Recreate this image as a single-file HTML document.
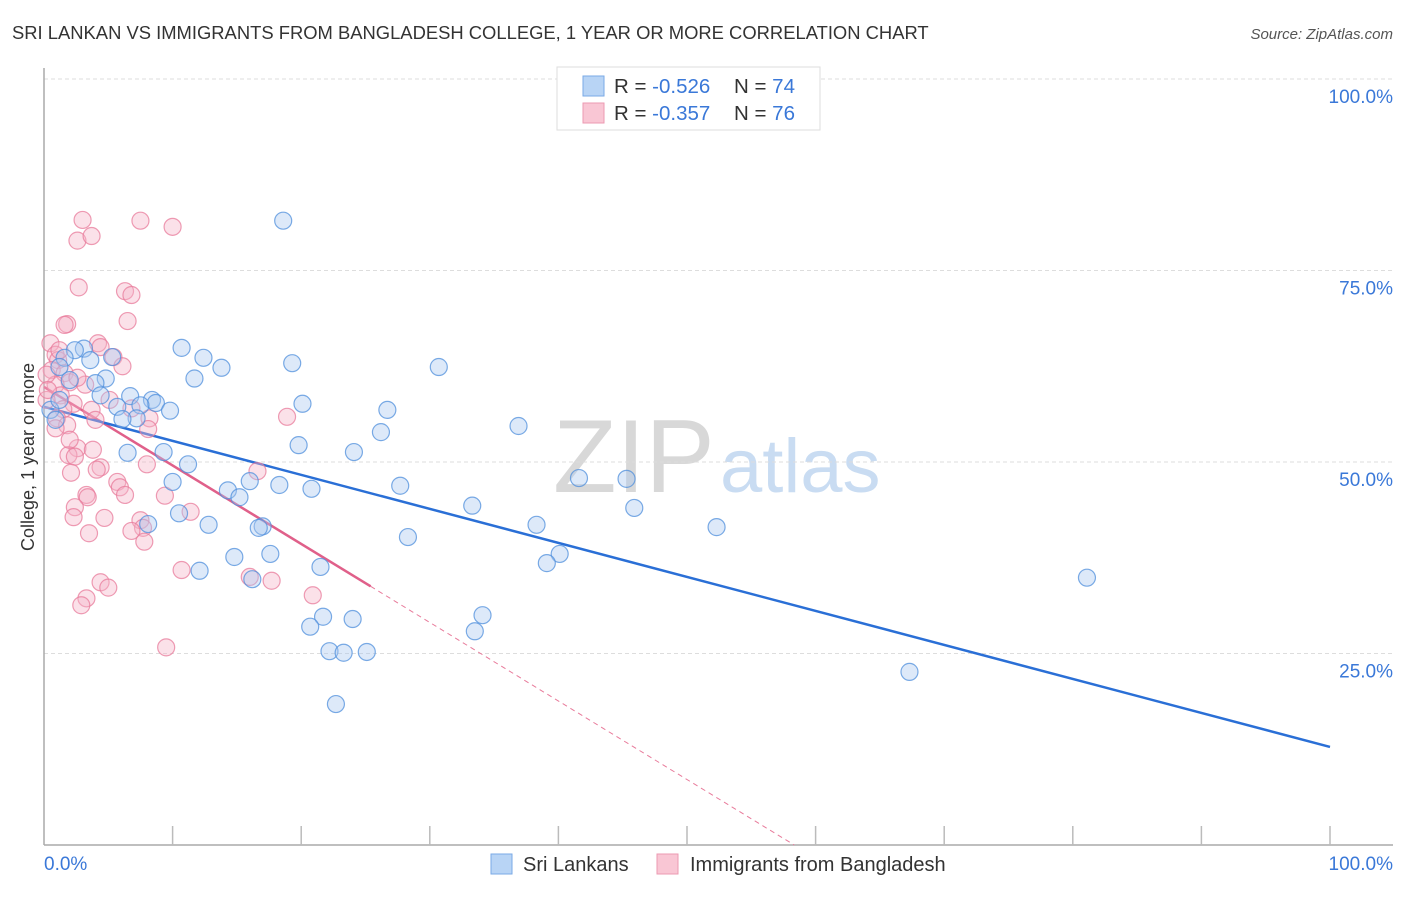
<!DOCTYPE html>
<html><head><meta charset="utf-8"><style>
body{margin:0;background:#fff;font-family:"Liberation Sans",sans-serif;}
svg text{font-family:"Liberation Sans",sans-serif;}
</style></head><body>
<svg id="chart" width="1406" height="892" viewBox="0 0 1406 892" xmlns="http://www.w3.org/2000/svg">
<text x="12" y="39" font-size="18.4" fill="#333">SRI LANKAN VS IMMIGRANTS FROM BANGLADESH COLLEGE, 1 YEAR OR MORE CORRELATION CHART</text>
<text x="1393" y="39" font-size="15" fill="#555" font-style="italic" text-anchor="end">Source: ZipAtlas.com</text>
<g><text x="553" y="492" font-size="104" fill="#d8d8d8" font-family="Liberation Serif,serif">ZIP</text><text x="720" y="492" font-size="76" fill="#c9dcf2">atlas</text></g>
<g id="grid"></g>
<g id="axes"></g>
<text transform="translate(34,457) rotate(-90)" font-size="18" fill="#333" text-anchor="middle">College, 1 year or more</text>
<g id="lines"></g>
<g id="pts"></g>
<g>
<rect x="557" y="67" width="263" height="63" fill="#fff" stroke="#ddd"/>
<rect x="583" y="76" width="21" height="20" fill="#b8d4f5" stroke="#7aaae6"/>
<rect x="583" y="103" width="21" height="20" fill="#f9c6d4" stroke="#ec9ab2"/>
<text x="614" y="93" font-size="20.5" fill="#333">R = <tspan fill="#3a78d8">-0.526</tspan></text>
<text x="734" y="93" font-size="20.5" fill="#333">N = <tspan fill="#3a78d8">74</tspan></text>
<text x="614" y="120" font-size="20.5" fill="#333">R = <tspan fill="#3a78d8">-0.357</tspan></text>
<text x="734" y="120" font-size="20.5" fill="#333">N = <tspan fill="#3a78d8">76</tspan></text>
</g>
<g>
<rect x="491" y="854" width="21" height="20" fill="#b8d4f5" stroke="#7aaae6"/>
<text x="523" y="871" font-size="20" fill="#333">Sri Lankans</text>
<rect x="657" y="854" width="21" height="20" fill="#f9c6d4" stroke="#ec9ab2"/>
<text x="690" y="871" font-size="20" fill="#333">Immigrants from Bangladesh</text>
</g>
</svg>
<script>
const blueX=[18.6,10.7,12.4,19.3,13.8,30.7,11.7,3.1,2.4,1.6,1.2,3.6,5.3,4.8,4.0,4.4,6.7,8.4,8.7,7.5,9.8,5.7,7.2,6.1,20.1,26.7,26.2,19.8,24.1,36.9,6.5,9.3,11.2,10.0,16.0,18.3,20.8,27.7,41.6,45.3,14.3,15.2,33.3,45.9,10.5,12.8,17.0,16.7,8.1,28.3,38.3,52.3,40.1,39.1,14.8,17.6,21.5,12.1,16.2,81.1,34.1,21.7,24.0,20.7,33.5,22.2,23.3,25.1,67.3,22.7,0.5,0.9,1.2,2.0];
const blueY=[81.5,64.9,63.6,62.9,62.3,62.4,60.9,64.8,64.6,63.6,62.4,63.3,63.7,60.9,60.3,58.7,58.6,58.1,57.7,57.4,56.7,57.2,55.7,55.6,57.6,56.8,53.9,52.2,51.3,54.7,51.2,51.3,49.7,47.4,47.5,47.0,46.5,46.9,47.9,47.8,46.3,45.4,44.3,44.0,43.3,41.8,41.6,41.4,41.9,40.2,41.8,41.5,38.0,36.8,37.6,38.0,36.3,35.8,34.7,34.9,30.0,29.8,29.5,28.5,27.9,25.3,25.1,25.2,22.6,18.4,56.8,55.5,58.1,60.7];
const pinkX=[3.0,7.5,10.0,2.6,3.7,2.7,6.3,6.8,6.5,1.8,1.6,0.5,4.2,4.4,0.9,5.4,6.1,1.1,0.6,1.6,2.0,0.9,3.2,1.3,2.3,1.5,3.7,1.0,8.2,6.8,1.8,0.9,8.1,18.9,2.6,3.8,1.9,2.4,8.0,4.4,4.1,16.6,2.1,5.7,5.9,3.3,3.4,9.4,6.3,2.4,2.3,4.7,11.4,7.5,7.7,6.8,3.5,7.8,10.7,4.4,16.0,17.7,5.0,20.9,3.3,2.9,9.5,0.2,0.2,0.3,1.2,2.6,5.1,4.0,2.0];
const pinkY=[81.6,81.5,80.7,78.9,79.5,72.8,72.3,71.8,68.4,68.0,67.9,65.5,65.5,65.0,64.0,63.7,62.5,63.3,62.0,61.6,60.4,60.1,60.1,58.7,57.6,56.9,56.8,55.7,55.7,57.0,54.8,54.4,54.3,55.9,51.8,51.6,50.9,50.7,49.7,49.3,49.0,48.8,48.6,47.4,46.7,45.7,45.4,45.6,45.7,44.1,42.8,42.7,43.5,42.4,41.4,41.0,40.7,39.6,35.9,34.3,35.0,34.5,33.6,32.6,32.2,31.3,25.8,58.1,61.4,59.4,64.6,61.0,58.1,55.5,52.9];
const blueTrend=[57.2,12.8];
const pinkTrend=[59.8,-42.7];
const pinkSolidEnd=25.4;
const yTicks=[25,50,75,100];
const yTickLabels=["25.0%","50.0%","75.0%","100.0%"];
const xTicks=[10,20,30,40,50,60,70,80,90,100];

const NS="http://www.w3.org/2000/svg";
const X0=44,X1=1330,Y0=845,Y100=79;
const sx=v=>X0+(X1-X0)*v/100;
const sy=v=>Y0-(Y0-Y100)*v/100;
function mk(tag,attrs,parent){const e=document.createElementNS(NS,tag);for(const k in attrs)e.setAttribute(k,attrs[k]);parent.appendChild(e);return e;}
const grid=document.getElementById('grid'),axes=document.getElementById('axes'),lines=document.getElementById('lines'),pts=document.getElementById('pts');
yTicks.forEach((t,i)=>{
  const l=mk('line',{x1:X0,x2:1393,y1:sy(t),y2:sy(t),stroke:'#ddd','stroke-dasharray':'4,3'},grid);
  
  
  const tx=mk('text',{x:1393,y:sy(t)+24,'font-size':19,fill:'#3a78d8','text-anchor':'end'},axes);
  tx.textContent=yTickLabels[i];
  
  
});
mk('line',{x1:X0,x2:X0,y1:68,y2:Y0,stroke:'#aaa','stroke-width':1.5},axes);
mk('line',{x1:X0,x2:1393,y1:Y0,y2:Y0,stroke:'#aaa','stroke-width':1.5},axes);
xTicks.forEach(t=>{
  const l=mk('line',{x1:sx(t),x2:sx(t),y1:Y0-19,y2:Y0,stroke:'#bbb','stroke-width':1.5},axes);
  
  
});
const xl0=mk('text',{x:X0,y:870,'font-size':19,fill:'#3a78d8'},axes);xl0.textContent='0.0%';


const xl1=mk('text',{x:1393,y:870,'font-size':19,fill:'#3a78d8','text-anchor':'end'},axes);xl1.textContent='100.0%';



function dot(x,y,fill,stroke,name){
  const c=mk('circle',{cx:sx(x),cy:sy(y),r:8.5,fill:fill,'fill-opacity':0.4,stroke:stroke,'stroke-opacity':0.75,'stroke-width':1.2},pts);
  
  
}
pinkX.forEach((x,i)=>dot(x,pinkY[i],'#f6b3c7','#e87b9b','bangladesh-point'));
blueX.forEach((x,i)=>dot(x,blueY[i],'#a9c9f1','#4f8fdc','sri-lankan-point'));

const py=x=>pinkTrend[0]+(pinkTrend[1]-pinkTrend[0])*x/100;
const zeroX=pinkTrend[0]/(pinkTrend[0]-pinkTrend[1])*100;
const pd=mk('line',{x1:sx(pinkSolidEnd),y1:sy(py(pinkSolidEnd)),x2:sx(zeroX),y2:sy(0),stroke:'#e87b9b','stroke-width':1,'stroke-dasharray':'5,4'},lines);


const ps=mk('line',{x1:sx(0),y1:sy(py(0)),x2:sx(pinkSolidEnd),y2:sy(py(pinkSolidEnd)),stroke:'#e0608a','stroke-width':2.5},lines);


const bl=mk('line',{x1:sx(0),y1:sy(blueTrend[0]),x2:sx(100),y2:sy(blueTrend[1]),stroke:'#2a6fd6','stroke-width':2.5},lines);


</script>
</body></html>
